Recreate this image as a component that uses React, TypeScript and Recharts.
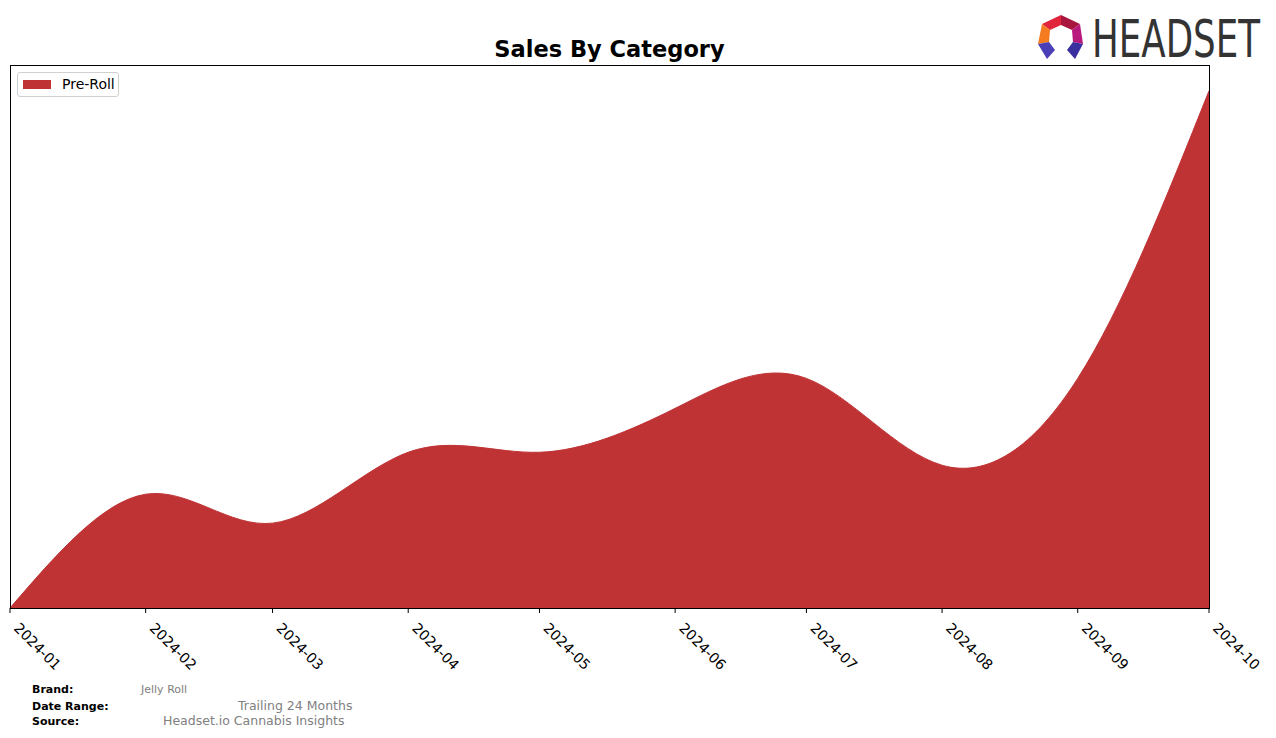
import React from "react";
import { AreaChart, Area, XAxis, YAxis } from "recharts";

const months = ["2024-01", "2024-02", "2024-03", "2024-04", "2024-05", "2024-06", "2024-07", "2024-08", "2024-09", "2024-10"];
const preRollSales = [0, 11400, 8500, 15600, 15600, 20000, 23000, 14300, 23000, 51800];
const seriesName = "Pre-Roll";
const brand = "Jelly Roll";
const dateRange = "Trailing 24 Months";
const source = "Headset.io Cannabis Insights";

const toTs = (m: string) => {
  const [y, mo] = m.split("-").map(Number);
  return Date.UTC(y, mo - 1, 1);
};

const data = months.map((m, i) => ({ t: toTs(m), label: m, v: preRollSales[i] }));
const ticks = months.map(toTs);
const maxV = Math.max(...preRollSales);

const FONT = "'DejaVu Sans', sans-serif";
const RED = "#c03335";

const Tick = (props: any) => {
  const { x, y, payload } = props;
  const d = new Date(payload.value);
  const label = `${d.getUTCFullYear()}-${String(d.getUTCMonth() + 1).padStart(2, "0")}`;
  const px = x + 3;
  const py = y + 14;
  return (
    <text x={px} y={py} transform={`rotate(45, ${px}, ${py})`} textAnchor="start" fontSize={14.2} fontFamily={FONT} fill="#000">
      {label}
    </text>
  );
};

const Logo = () => (
  <svg width={1276} height={80} style={{ position: "absolute", left: 0, top: 0 }}>
    <polygon points="1042,24 1061,15 1061,25 1050,30" fill="#e0243a" />
    <polygon points="1061,15 1080,24 1072,30 1061,25" fill="#a8153f" />
    <polygon points="1042,24 1050,30 1049,42 1038,44" fill="#f47b20" />
    <polygon points="1080,24 1083,44 1073,42 1072,30" fill="#b8197c" />
    <polygon points="1038,44 1049,42 1055,50 1047,59" fill="#4b3fb8" />
    <polygon points="1083,44 1073,42 1067,50 1075,59" fill="#3a2f9e" />
    <text transform="translate(1092,57) scale(1,1.2)" x={0} y={0} fontSize={43} fontFamily="'Liberation Sans Narrow', 'DejaVu Sans Condensed', sans-serif" fill="#333" textLength={168} lengthAdjust="spacingAndGlyphs">
      HEADSET
    </text>
  </svg>
);

export default function App() {
  return (
    <div style={{ position: "absolute", left: 0, top: 0, width: 1276, height: 738, background: "#fff", fontFamily: FONT }}>
      <div style={{ position: "absolute", left: 10, width: 1199, top: 35, textAlign: "center", fontSize: 22.5, fontWeight: "bold", lineHeight: "28px" }}>
        Sales By Category
      </div>
      <Logo />
      <AreaChart width={1276} height={738} data={data} margin={{ top: 65, left: 10, right: 67, bottom: 0 }}>
        <XAxis
          dataKey="t"
          type="number"
          scale="linear"
          domain={[ticks[0], ticks[ticks.length - 1]]}
          ticks={ticks}
          tick={<Tick />}
          axisLine={false}
          tickLine={{ stroke: "#000" }}
          tickSize={5}
          interval={0}
          height={130}
        />
        <YAxis hide domain={[0, maxV * 1.05]} />
        <Area type="natural" dataKey="v" name={seriesName} stroke={RED} strokeWidth={1} fill={RED} fillOpacity={1} isAnimationActive={false} />
      </AreaChart>
      <div style={{ position: "absolute", left: 10, top: 65, width: 1200, height: 544, border: "1px solid #000", boxSizing: "border-box", pointerEvents: "none" }} />
      <div style={{ position: "absolute", left: 17, top: 72, width: 102, height: 25, border: "1px solid #d0d0d0", borderRadius: 3, background: "#fff", boxSizing: "border-box" }}>
        <div style={{ position: "absolute", left: 5, top: 7, width: 28, height: 9, background: RED }} />
        <div style={{ position: "absolute", left: 44, top: 3, fontSize: 14, lineHeight: "16px" }}>{seriesName}</div>
      </div>
      <div style={{ position: "absolute", left: 32, top: 683, fontSize: 11, fontWeight: "bold", lineHeight: "13px" }}>Brand:</div>
      <div style={{ position: "absolute", left: 141, top: 683, fontSize: 11, color: "#808080", lineHeight: "13px" }}>{brand}</div>
      <div style={{ position: "absolute", left: 32, top: 700, fontSize: 11, fontWeight: "bold", lineHeight: "13px" }}>Date Range:</div>
      <div style={{ position: "absolute", left: 238, top: 698, fontSize: 12.5, color: "#808080", lineHeight: "15px" }}>{dateRange}</div>
      <div style={{ position: "absolute", left: 32, top: 715, fontSize: 11, fontWeight: "bold", lineHeight: "13px" }}>Source:</div>
      <div style={{ position: "absolute", left: 163, top: 713, fontSize: 12.5, color: "#808080", lineHeight: "15px" }}>{source}</div>
    </div>
  );
}
